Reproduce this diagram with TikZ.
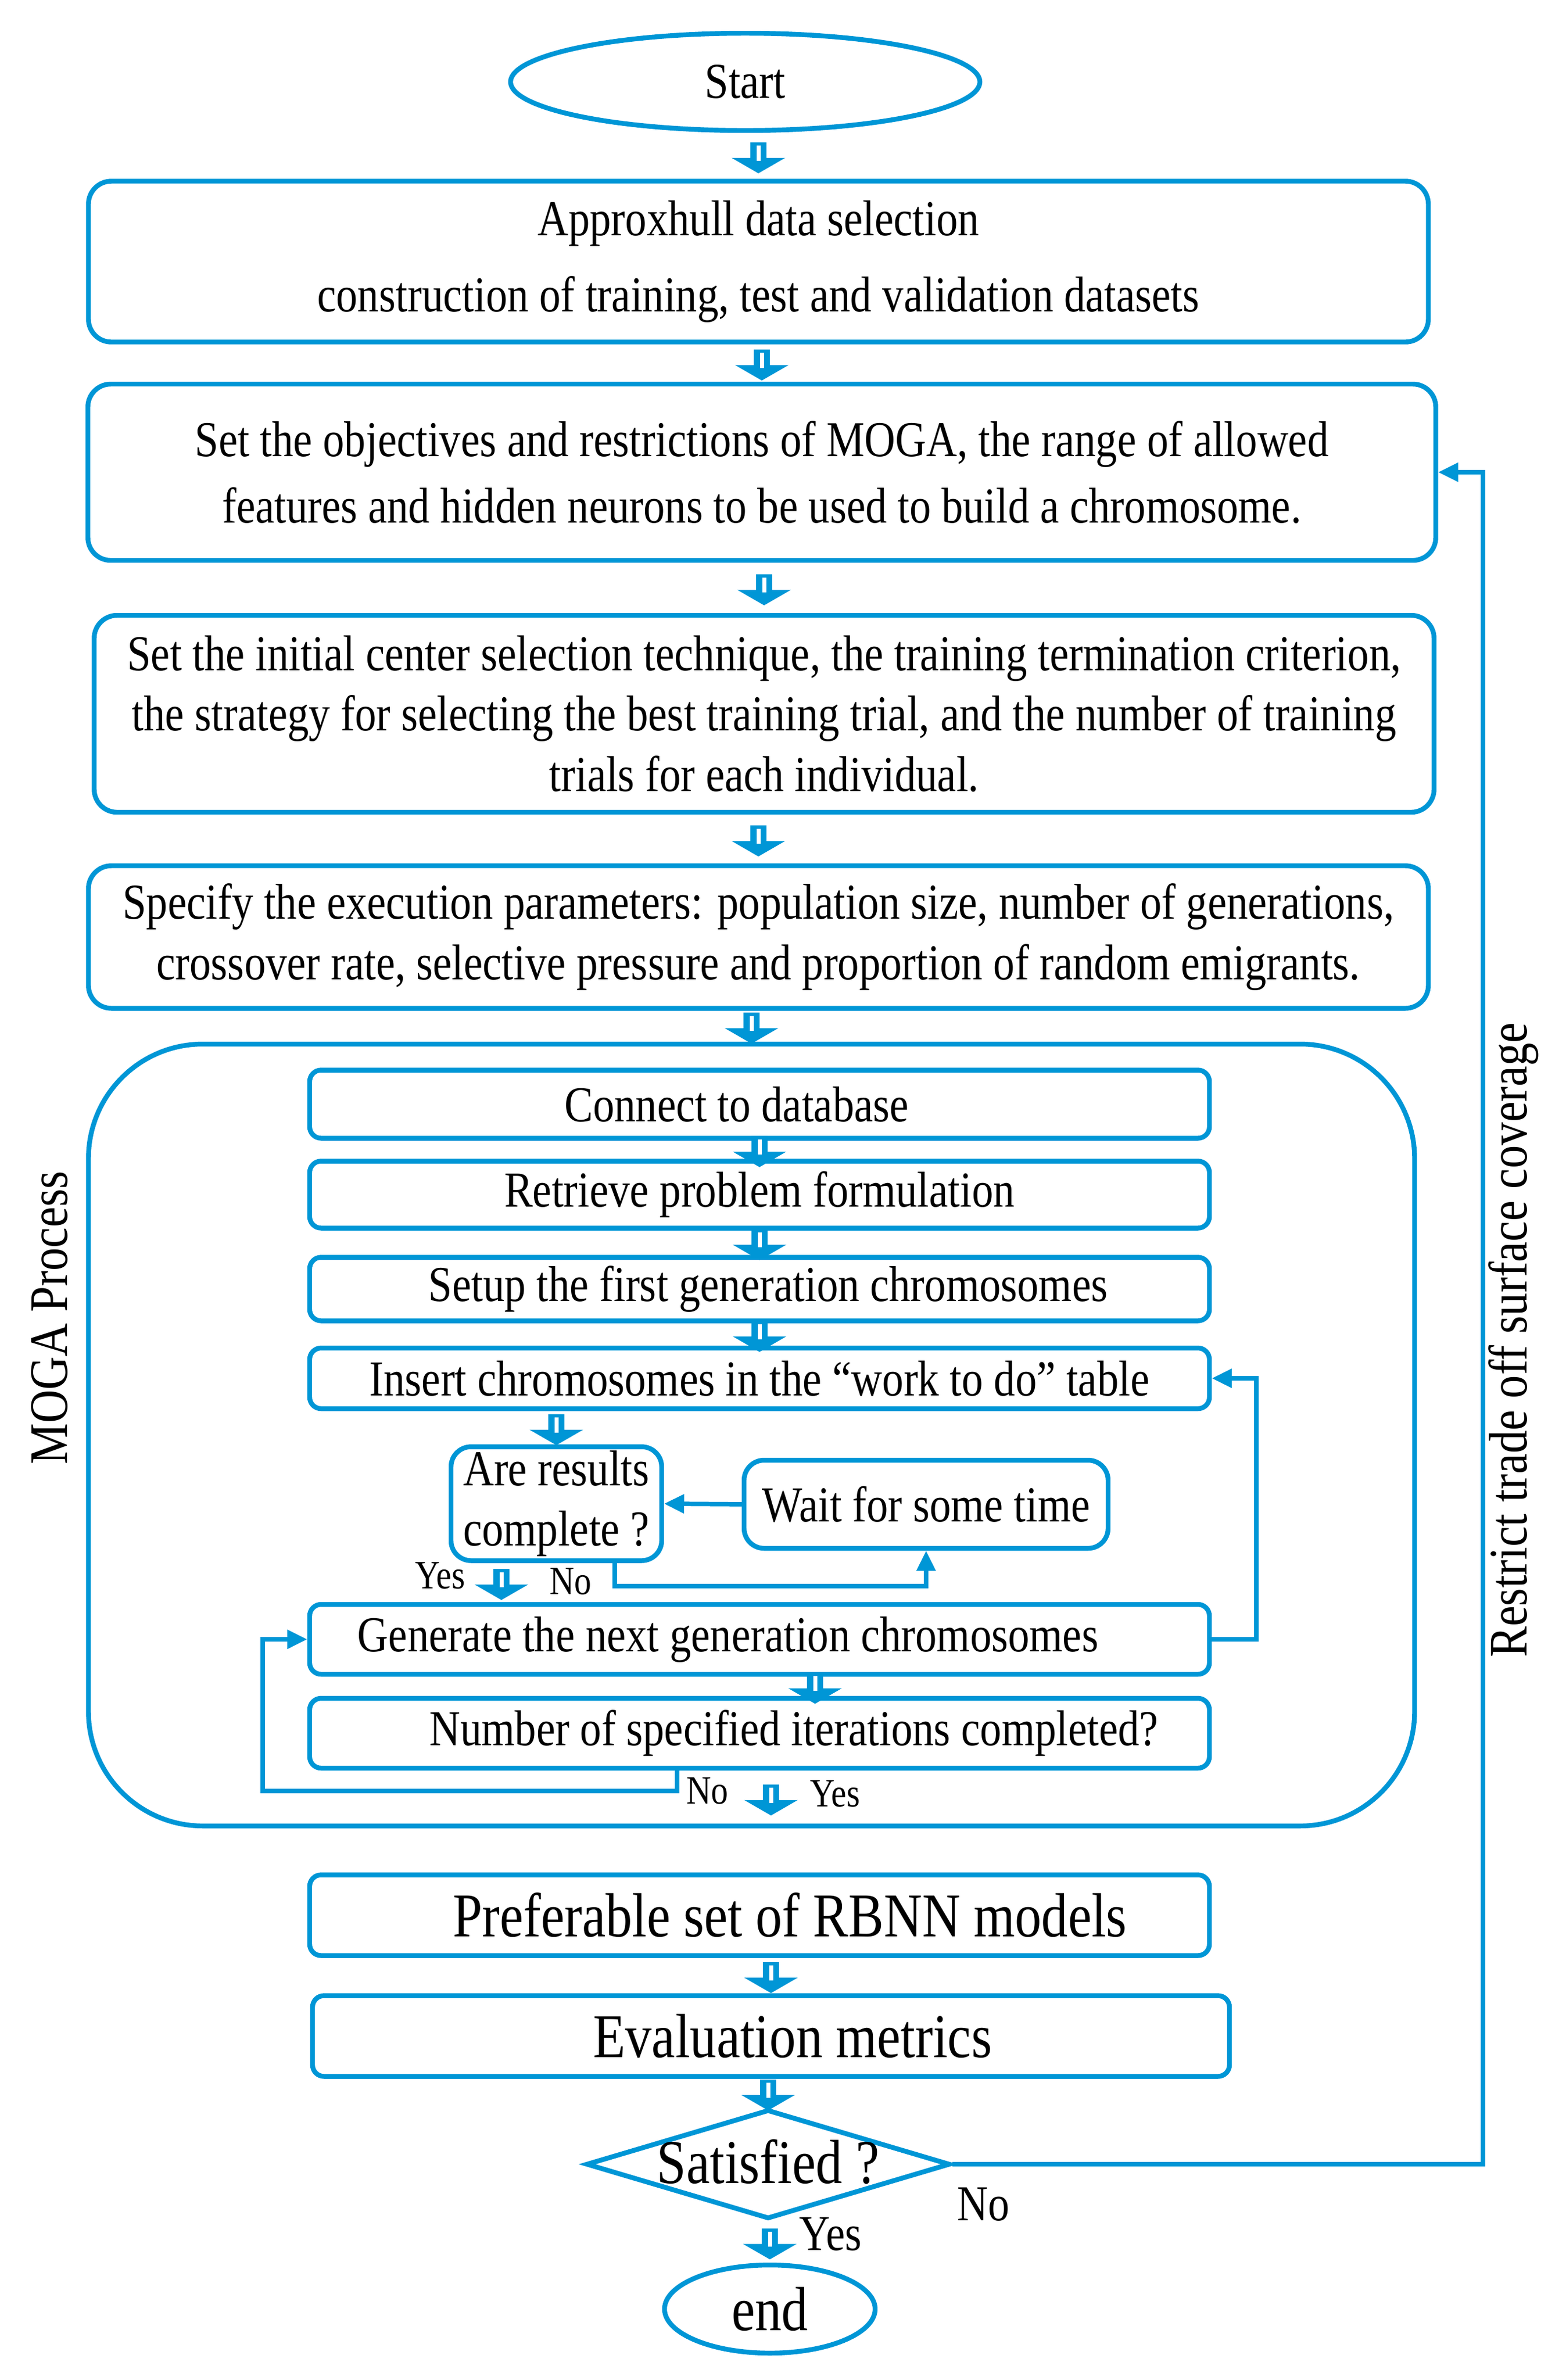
\documentclass[tikz,border=0pt]{standalone}
\usepackage{fontspec}
\setmainfont{Liberation Serif}[FakeStretch=0.85]
\usetikzlibrary{shapes.geometric,shapes.arrows,arrows.meta,calc}

\definecolor{flowblue}{RGB}{0,150,214}
\newcommand\mainsize{\fontsize{25}{30}\selectfont}
\newcommand\largesize{\fontsize{31}{36}\selectfont}
\newcommand\sidesize{\fontsize{27}{32}\selectfont}
\newcommand\lblsize{\fontsize{20}{24}\selectfont}

\begin{document}
\begin{tikzpicture}[
  mainbox/.style={draw=flowblue, line width=2.4pt, rounded corners=0.4cm,
    align=center, inner sep=0pt, font=\mainsize},
  stepbox/.style={draw=flowblue, line width=2.4pt, rounded corners=0.2cm,
    inner sep=0pt, minimum width=15.72cm, font=\mainsize},
  smallbox/.style={draw=flowblue, line width=2.4pt, rounded corners=0.35cm,
    align=center, inner sep=0pt, font=\mainsize},
  mogabox/.style={draw=flowblue, line width=2.4pt, rounded corners=2cm},
  oval/.style={ellipse, draw=flowblue, line width=2.4pt, inner sep=0pt, font=\mainsize},
  decision/.style={diamond, draw=flowblue, line width=2.4pt, inner sep=0pt,
    minimum width=6.36cm, minimum height=1.91cm, font=\largesize},
  downarrow/.style={single arrow, draw=flowblue, fill=flowblue, line width=1.6pt,
    shape border rotate=270, inner sep=0.085cm, minimum height=0.48cm,
    single arrow head extend=0.25cm, single arrow tip angle=120,
    path picture={\draw[white, line width=0.07cm] (path picture bounding box.north)
      -- ([yshift=-0.05cm]path picture bounding box.center);}},
  link/.style={draw=flowblue, line width=2.2pt, -{Triangle[length=0.35cm,width=0.32cm]}},
  sidetext/.style={rotate=90, font=\sidesize},
  lbl/.style={font=\lblsize, inner sep=0pt}
]
\useasboundingbox (0,0) rectangle (27.36,-41.58);

% main column
\node[oval, minimum width=8.20cm, minimum height=1.70cm] (start) at (13.02,-1.43) {\raisebox{-0.12cm}{Start}};
\node[mainbox, minimum width=23.41cm, minimum height=2.81cm] (appx) at (13.25,-4.57)
  {Approxhull data selection\\[8pt] construction of training, test and validation datasets};
\node[mainbox, minimum width=23.55cm, minimum height=3.08cm] (objs) at (13.31,-8.25)
  {Set the objectives and restrictions of MOGA, the range of allowed\\[3pt]
   features and hidden neurons to be used to build a chromosome.};
\node[mainbox, minimum width=23.41cm, minimum height=3.44cm] (train) at (13.35,-12.47)
  {Set the initial center selection technique, the training termination criterion,\\
   the strategy for selecting the best training trial, and the number of training\\
   trials for each individual.};
\node[mainbox, minimum width=23.41cm, minimum height=2.49cm] (exec) at (13.25,-16.37)
  {Specify the execution parameters: population size, number of generations,\\
   crossover rate, selective pressure and proportion of random emigrants.};

% MOGA process
\node[mogabox, minimum width=23.17cm, minimum height=13.66cm] (moga) at (13.13,-25.07) {};
\node[sidetext] (mogalbl) at (0.87,-23.02) {MOGA Process};
\node[stepbox, minimum height=1.19cm] (conn) at (13.27,-19.29) {Connect to database\hspace*{0.8cm}};
\node[stepbox, minimum height=1.17cm] (retr) at (13.27,-20.87) {Retrieve problem formulation};
\node[stepbox, minimum height=1.11cm] (setup) at (13.27,-22.52) {\hspace*{0.3cm}Setup the first generation chromosomes};
\node[stepbox, minimum height=1.06cm] (ins) at (13.27,-24.08) {Insert chromosomes in the “work to do” table};
\node[smallbox, minimum width=3.68cm, minimum height=1.99cm] (are) at (9.72,-26.27) {Are results\\ complete ?};
\node[smallbox, minimum width=6.36cm, minimum height=1.54cm] (wait) at (16.18,-26.28) {Wait for some time};
\node[stepbox, minimum height=1.22cm] (gen) at (13.27,-28.64) {Generate the next generation chromosomes\hspace*{1.1cm}};
\node[stepbox, minimum height=1.22cm] (iter) at (13.27,-30.28) {\hspace*{1.2cm}Number of specified iterations completed?};

% results
\node[stepbox, minimum height=1.41cm, font=\largesize] (pref) at (13.27,-33.46) {\hspace*{1.06cm}Preferable set of RBNN models};
\node[stepbox, minimum width=16.02cm, minimum height=1.41cm, font=\largesize] (eval) at (13.47,-35.57) {\hspace*{0.75cm}Evaluation metrics};
\node[decision] (sat) at (13.42,-37.81) {\raisebox{-0.33cm}[0pt][0pt]{\makebox[0pt]{Satisfied ?}}};
\node[oval, minimum width=3.68cm, minimum height=1.54cm, font=\largesize] (end) at (13.45,-40.34) {end};
\node[sidetext] (restrict) at (26.44,-23.41) {Restrict trade off surface coverage};

% block arrows
\foreach \a/\b in {start/appx, appx/objs, objs/train, train/exec, exec/moga,
                   conn/retr, retr/setup, setup/ins, ins/are, pref/eval, eval/sat, sat/end}
  \node[downarrow] (to-\b) at ($(\b.north)!0.5!(\b.north |- \a.south)$) {};
\node[downarrow] (to-gen) at ($(are.south)!0.5!(are.south |- gen.north) + (-0.96,0)$) {};
\node[downarrow] (to-iter) at ($(gen.south)!0.5!(iter.north) + (0.97,0)$) {};
\node[downarrow] (to-pref) at ($(iter.south) + (0.2,-0.48)$) {};

% loops
\coordinate (nobend) at (10.74,-27.71);
\draw[link] (are.south -| nobend) -- (nobend) -| (wait.south);
\draw[link] (wait.west) -- (are.east);
\coordinate (loopr) at (21.95,-26.3);
\draw[link] (gen.east) -| (loopr) |- (ins.east);
\coordinate (nostart) at (11.83,-31.29);
\coordinate (loopl) at (4.59,-31.29);
\draw[link] (iter.south -| nostart) -- (nostart) -- (loopl) |- (gen.west);
\coordinate (backr) at (25.91,-20);
\draw[link] (sat.east) -| (backr) |- (objs.east);

% yes / no
\node[lbl] (yes1) at (7.69,-27.53) {Yes};
\node[lbl] (no1) at (9.97,-27.63) {No};
\node[lbl] (no2) at (12.36,-31.29) {No};
\node[lbl] (yes2) at (14.59,-31.34) {Yes};
\node[lbl, font=\mainsize] (no3) at (17.18,-38.51) {No};
\node[lbl, font=\mainsize] (yes3) at (14.51,-39.03) {Yes};
\end{tikzpicture}
\end{document}
